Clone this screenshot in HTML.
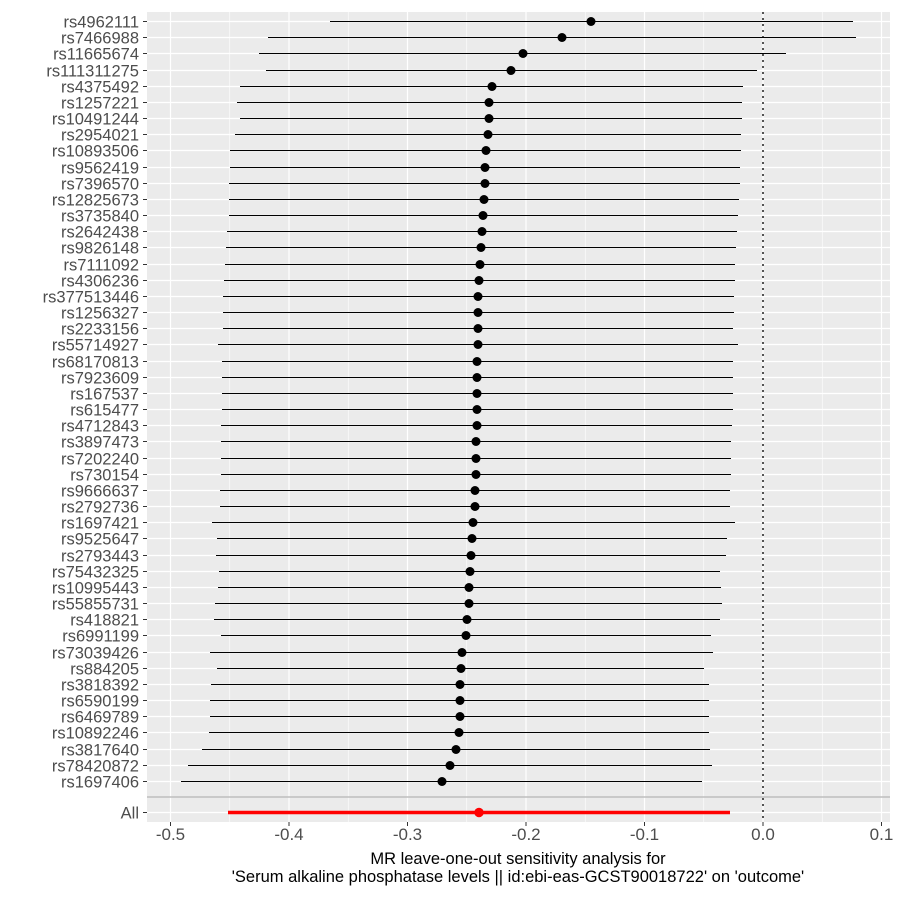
<!DOCTYPE html>
<html><head><meta charset="utf-8"><style>body{margin:0;background:#fff}svg{display:block;font-family:"Liberation Sans",Arial,sans-serif}</style></head>
<body>
<svg id="s" width="905" height="902" xmlns="http://www.w3.org/2000/svg">
<rect x="147" y="12" width="743" height="810" fill="#ebebeb"/>
<g id="grid"></g>
<g id="data"></g>
<g font-size="17" fill="#4d4d4d" text-anchor="middle">
<text x="170.5" y="840">-0.5</text><text x="289" y="840">-0.4</text><text x="407.5" y="840">-0.3</text><text x="526" y="840">-0.2</text><text x="644.5" y="840">-0.1</text><text x="763" y="840">0.0</text><text x="881.5" y="840">0.1</text>
</g>
<g font-size="16.5" fill="#000" text-anchor="middle">
<text x="518" y="864">MR leave-one-out sensitivity analysis for</text>
<text x="518" y="882">'Serum alkaline phosphatase levels || id:ebi-eas-GCST90018722' on 'outcome'</text>
</g>
</svg>
<script>
const d=[["rs4962111",330,591,853],["rs7466988",268,562,856],["rs11665674",259,523,786],["rs111311275",266,511,757],["rs4375492",240,492,743],["rs1257221",237,489,742],["rs10491244",240,489,742],["rs2954021",235,488,741],["rs10893506",230,486,741],["rs9562419",230,485,740],["rs7396570",229,485,740],["rs12825673",229,484,739],["rs3735840",229,483,738],["rs2642438",227,482,737],["rs9826148",226,481,736],["rs7111092",225,480,735],["rs4306236",224,479,735],["rs377513446",223,478,734],["rs1256327",223,478,734],["rs2233156",223,478,733],["rs55714927",218,478,738],["rs68170813",222,477,733],["rs7923609",222,477,733],["rs167537",222,477,733],["rs615477",222,477,733],["rs4712843",221,477,732],["rs3897473",221,476,731],["rs7202240",221,476,731],["rs730154",221,476,731],["rs9666637",220,475,730],["rs2792736",220,475,730],["rs1697421",212,473,735],["rs9525647",217,472,727],["rs2793443",216,471,726],["rs75432325",219,470,720],["rs10995443",218,469,721],["rs55855731",215,469,722],["rs418821",214,467,720],["rs6991199",221,466,711],["rs73039426",210,462,713],["rs884205",217,461,704],["rs3818392",211,460,709],["rs6590199",210,460,709],["rs6469789",210,460,709],["rs10892246",209,459,709],["rs3817640",202,456,710],["rs78420872",188,450,712],["rs1697406",181,442,702]];
const ns="http://www.w3.org/2000/svg";
function el(p,t,a,txt){const e=document.createElementNS(ns,t);for(const k in a)e.setAttribute(k,a[k]);if(txt)e.textContent=txt;p.appendChild(e);return e;}
const g=document.getElementById("grid"),D=document.getElementById("data"),S=document.getElementById("s");
const xs=[170.5,289,407.5,526,644.5,763,881.5];
for(let i=0;i<xs.length-1;i++)el(g,"line",{x1:(xs[i]+xs[i+1])/2,x2:(xs[i]+xs[i+1])/2,y1:12,y2:822,stroke:"#fff","stroke-width":0.6});
xs.forEach(x=>{el(g,"line",{x1:x,x2:x,y1:12,y2:822,stroke:"#fff","stroke-width":1.2});el(S,"line",{x1:x,x2:x,y1:822,y2:826,stroke:"#333","stroke-width":1});});
const y0=21,dy=(781-21)/47;
d.forEach((r,i)=>{const y=Math.round(y0+i*dy)+0.5;
el(g,"line",{x1:147,x2:890,y1:y,y2:y,stroke:"#fff","stroke-width":1.2});
el(D,"line",{x1:r[1],x2:r[3],y1:y,y2:y,stroke:"#000","stroke-width":1});
el(D,"circle",{cx:r[2],cy:y,r:4.5,fill:"#000"});
el(S,"line",{x1:143,x2:147,y1:y,y2:y,stroke:"#333"});
el(S,"text",{x:139,y:y+6,"font-size":16.5,fill:"#4d4d4d","text-anchor":"end"},r[0]);});
el(g,"line",{x1:147,x2:890,y1:812.5,y2:812.5,stroke:"#fff","stroke-width":1.2});
el(D,"line",{x1:147,x2:890,y1:797,y2:797,stroke:"#bebebe","stroke-width":1.5});
el(D,"line",{x1:763,x2:763,y1:12,y2:822,stroke:"#000","stroke-width":1.3,"stroke-dasharray":"2,4"});
el(D,"line",{x1:228,x2:730,y1:812.5,y2:812.5,stroke:"#f00","stroke-width":3.5});
el(D,"circle",{cx:479,cy:812.5,r:4.7,fill:"#f00"});
el(S,"line",{x1:143,x2:147,y1:812.5,y2:812.5,stroke:"#333"});
el(S,"text",{x:139,y:818.5,"font-size":16.5,fill:"#4d4d4d","text-anchor":"end"},"All");
</script>
</body></html>
